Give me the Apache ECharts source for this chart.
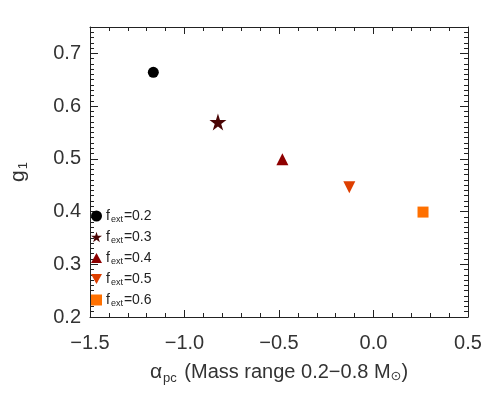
<!DOCTYPE html>
<html>
<head>
<meta charset="utf-8">
<script src="https://cdn.jsdelivr.net/npm/echarts@6/dist/echarts.min.js"></script>
<style>html,body{margin:0;padding:0;background:#fff}#c{width:496px;height:399px}</style>
</head>
<body>
<div id="c"></div>
<script>
// Data
const fextLabels = ['0.2', '0.3', '0.4', '0.5', '0.6'];
const alphaPc = [-1.165, -0.823, -0.482, -0.128, 0.262];
const g1 = [0.664, 0.570, 0.499, 0.446, 0.399];
const colors = ['#000000', '#4a0505', '#8e0000', '#de3f00', '#ff7000'];
const xTicks = [-1.5, -1.0, -0.5, 0.0, 0.5];
const yTicks = [0.2, 0.3, 0.4, 0.5, 0.6, 0.7];

const STAR = 'path://M50,0 L61.2,34.5 L97.6,34.5 L68.2,55.9 L79.4,90.5 L50,69.1 L20.6,90.5 L31.8,55.9 L2.4,34.5 L38.8,34.5 Z';
const DOWN = 'path://M0,0 L100,0 L50,90 Z';
const UP = 'path://M50,0 L100,90 L0,90 Z';
const symbols = ['circle', STAR, UP, DOWN, 'rect'];
const sizes = [11, 17, 12, 12, 11];

const FONT = 'Liberation Sans';
const axisCol = '#222';

const series = fextLabels.map((f, i) => ({
  name: f,
  type: 'scatter',
  data: [[alphaPc[i], g1[i]]],
  symbol: symbols[i],
  symbolSize: sizes[i],
  itemStyle: { color: colors[i], opacity: 1 },
  z: 5
}));

const commonX = {
  type: 'value', min: xTicks[0], max: xTicks[xTicks.length - 1], interval: 0.5,
  axisLine: { show: true, onZero: false, lineStyle: { color: axisCol, width: 1 } },
  axisTick: { show: true, inside: true, length: 7, lineStyle: { color: axisCol } },
  minorTick: { show: true, splitNumber: 5, length: 4, lineStyle: { color: axisCol } },
  splitLine: { show: false }
};
const commonY = {
  type: 'value', min: yTicks[0], max: 0.75, interval: 0.1,
  axisLine: { show: true, onZero: false, lineStyle: { color: axisCol, width: 1 } },
  axisTick: { show: true, inside: true, length: 8, lineStyle: { color: axisCol } },
  minorTick: { show: true, splitNumber: 10, length: 4, lineStyle: { color: axisCol } },
  splitLine: { show: false }
};

const chart = echarts.init(document.getElementById('c'), null, { renderer: 'canvas' });
chart.setOption({
  backgroundColor: '#fff',
  animation: false,
  grid: { left: 87, right: 28, top: 27, bottom: 82 },
  xAxis: [
    Object.assign({}, commonX, {
      position: 'bottom',
      axisLabel: {
        show: true, margin: 16, fontFamily: FONT, fontSize: 20, color: '#333',
        formatter: v => (v < 0 ? '\u2212' : '') + Math.abs(v).toFixed(1)
      },
      name: '{a|\u03b1}{s|pc}{t| (Mass range 0.2\u22120.8 M}{o|\u2299}{t|)}',
      nameLocation: 'middle', nameGap: 43,
      nameTextStyle: {
        fontFamily: FONT, fontSize: 20, color: '#333',
        rich: {
          a: { fontFamily: FONT, fontSize: 21, color: '#333' },
          s: { fontFamily: FONT, fontSize: 13, color: '#333', padding: [12, 2, 0, 1] },
          t: { fontFamily: FONT, fontSize: 20, color: '#333' },
          o: { fontFamily: 'DejaVu Sans', fontSize: 13, color: '#333', padding: [8, 0, 0, 0] }
        }
      }
    }),
    Object.assign({}, commonX, { position: 'top', axisLabel: { show: false } })
  ],
  yAxis: [
    Object.assign({}, commonY, {
      position: 'left',
      axisLabel: {
        show: true, margin: 9, fontFamily: FONT, fontSize: 20, color: '#333',
        showMaxLabel: false,
        formatter: v => v.toFixed(1)
      },
      name: '{g|g}{s|1}',
      nameLocation: 'middle', nameGap: 60, nameRotate: 90,
      nameTextStyle: {
        rich: {
          g: { fontFamily: FONT, fontSize: 21, color: '#333' },
          s: { fontFamily: FONT, fontSize: 13, color: '#333', padding: [10, 0, 0, 1] }
        }
      }
    }),
    Object.assign({}, commonY, { position: 'right', axisLabel: { show: false } })
  ],
  legend: {
    orient: 'vertical', left: 91, top: 209, padding: 0,
    itemWidth: 11, itemHeight: 11, itemGap: 6,
    data: fextLabels.map((f, i) => ({ name: f, icon: symbols[i], itemStyle: { color: colors[i] } })),
    formatter: name => '{f|f}{s|ext}{f|=' + name + '}',
    textStyle: {
      padding: [0, 0, 0, -1],
      rich: {
        f: { fontFamily: FONT, fontSize: 14, color: '#222' },
        s: { fontFamily: FONT, fontSize: 9, color: '#222', padding: [7, 1, 0, 1] }
      }
    },
    selectedMode: false
  },
  series: series
});
</script>
</body>
</html>
